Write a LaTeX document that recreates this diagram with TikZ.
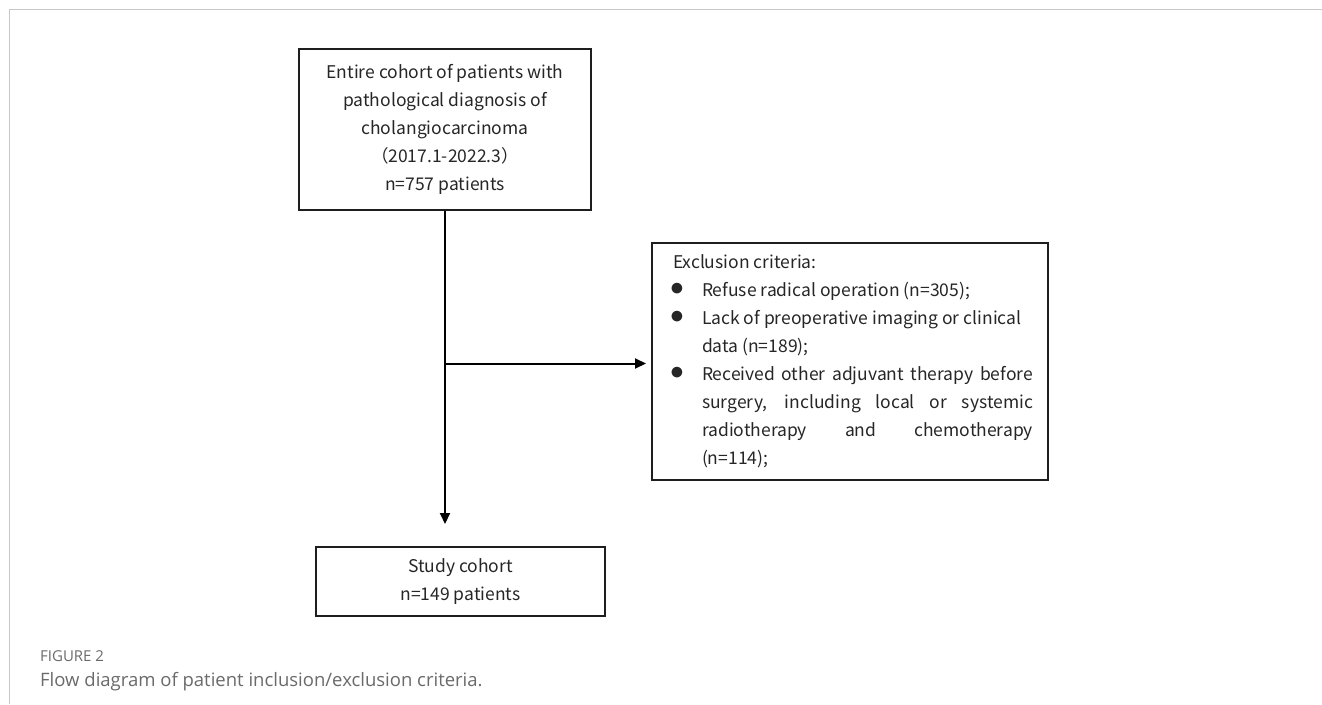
\documentclass[tikz,border=0pt]{standalone}
\usepackage{fontspec}
\setmainfont{Open Sans}
\newfontfamily\cjk{Noto Sans CJK SC}
\usetikzlibrary{arrows.meta}
\definecolor{boxline}{HTML}{1E1E1E}
\definecolor{frame}{HTML}{C8C8C8}
\definecolor{captxt}{HTML}{6A6A6A}
\newcommand{\blt}{\hspace*{6pt}\makebox[29pt][l]{\hspace{-3pt}\smash{\raisebox{0.5pt}{\scalebox{1.6}{$\bullet$}}}}}
\newcommand{\ind}{\hspace*{35pt}}
\begin{document}
\begin{tikzpicture}[x=1pt,y=-1pt,
  box/.style={draw=boxline, line width=2pt, inner sep=0pt},
  boxfont/.style={font=\cjk\fontsize{17.5}{28}\selectfont, text=black!85},
  arr/.style={line width=2pt, draw=black, -{Triangle[length=11pt,width=10pt]}},
  framelne/.style={draw=frame, line width=1.5pt}
]
\useasboundingbox (0,0) rectangle (1322,704);
\draw[framelne] (1322,9.5) -- (9.5,9.5) -- (9.5,704);

\node[box, boxfont, minimum width=292pt, minimum height=161pt, align=center]
  (top) at (445,129.5)
  {Entire cohort of patients with\\ pathological diagnosis of\\ cholangiocarcinoma\\ （2017.1-2022.3）\\ n=757 patients};

\node[box, boxfont, minimum width=396pt, minimum height=237pt]
  (excl) at (850,361)
  {\parbox{366pt}{\raggedright
   \hspace*{6pt}Exclusion criteria:\\
   \blt Refuse radical operation (n=305);\\
   \blt Lack of preoperative imaging or clinical\\
   \ind data (n=189);\\
   \blt\makebox[331pt][s]{Received other adjuvant therapy before}\\
   \ind\makebox[331pt][s]{surgery, including local or systemic}\\
   \ind\makebox[331pt][s]{radiotherapy and chemotherapy}\\
   \ind (n=114);}};

\node[box, boxfont, minimum width=289pt, minimum height=69pt, align=center]
  (study) at (460.5,581.5)
  {Study cohort\\ n=149 patients};

\draw[arr, shorten >=22pt] (top.south) -- (top.south |- study.north);
\path (top.south) ++(0,152.5) coordinate (br);
\draw[arr, shorten >=5pt] (br) -- (br -| excl.west);

\node[anchor=base west, inner sep=0pt, text=captxt, font=\fontsize{15}{17}\selectfont]
  (figlbl) at (40,661) {FIGURE 2};
\node[anchor=base west, inner sep=0pt, text=captxt, font=\fontsize{18.5}{20}\selectfont]
  (figcap) at (40,686) {Flow diagram of patient inclusion/exclusion criteria.};
\end{tikzpicture}
\end{document}
